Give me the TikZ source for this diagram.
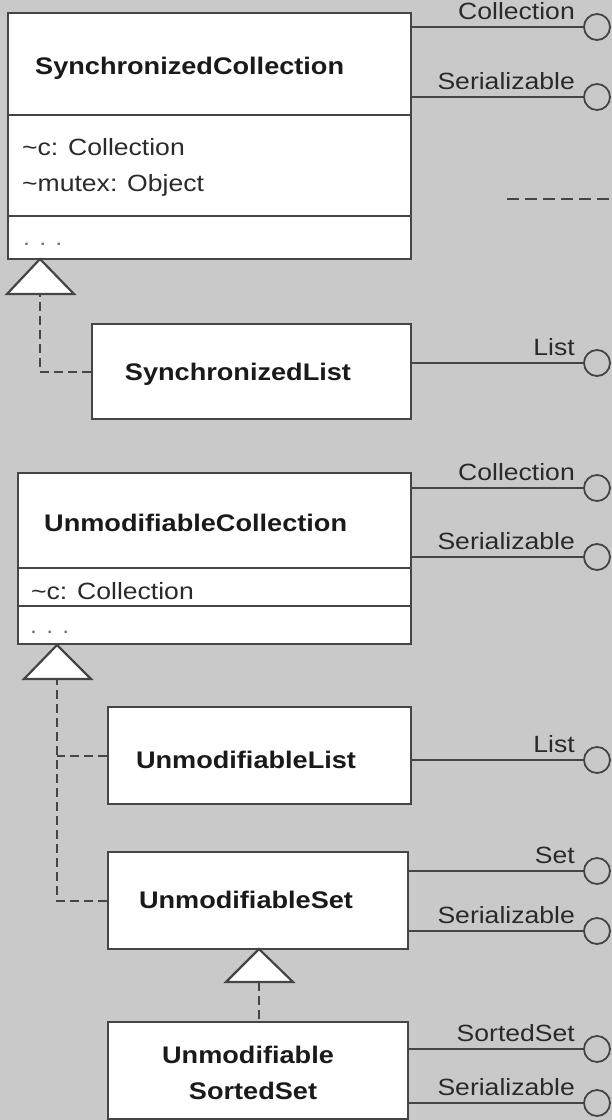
\documentclass[tikz,border=0pt]{standalone}
\usepackage{fontspec}
\newfontfamily\lib[FakeStretch=1.13]{Liberation Sans}
\definecolor{bgc}{HTML}{C9C9C9}
\definecolor{linec}{HTML}{454545}
\definecolor{textc}{HTML}{1A1A1A}
\definecolor{lblc}{HTML}{2A2A2A}
\definecolor{dotc}{HTML}{707070}
\begin{document}
\begin{tikzpicture}[x=1pt,y=-1pt,
  box/.style={draw=linec, line width=2.2pt, fill=white, inner sep=0pt, anchor=north west},
  title/.style={font=\lib\bfseries\fontsize{24}{28}\selectfont, text=textc, inner sep=0pt},
  attr/.style={font=\lib\fontsize{23.5}{28}\selectfont, text=lblc, anchor=base west, inner sep=0pt},
  dots/.style={font=\lib\fontsize{22}{26}\selectfont, text=dotc, anchor=base west, inner sep=0pt},
  lbl/.style={font=\lib\fontsize{23.5}{28}\selectfont, text=lblc, anchor=base east, inner sep=0pt},
  ifc/.style={circle, draw=linec, line width=1.8pt, minimum size=26pt, inner sep=0pt},
  conn/.style={draw=linec, line width=2.2pt},
  realize/.style={draw=linec, line width=2.2pt, dash pattern=on 9pt off 5pt},
  gen/.style={draw=linec, line width=2.2pt, fill=white, line join=miter}
]
\fill[bgc] (0,0) rectangle (612,1120);
\useasboundingbox (0,0) rectangle (612,1120);

% ---------- SynchronizedCollection ----------
\node[box, minimum width=403pt, minimum height=246pt] (A) at (7,12) {};
\draw[conn] (7,115) -- (410,115);
\draw[conn] (7,216) -- (410,216);
\node[title, anchor=base west] (At) at (35,74) {SynchronizedCollection};
\node[attr] (Aa1) at (22,155) {\textasciitilde c: Collection};
\node[attr] (Aa2) at (22,191) {\textasciitilde mutex: Object};
\node[dots] (Ad) at (23,245) {. . .};

\node[ifc] (Ai1) at (597,27) {};
\node[ifc] (Ai2) at (597,97) {};
\draw[conn] (Ai1) -- (Ai1 -| A.east);
\draw[conn] (Ai2) -- (Ai2 -| A.east);
\node[lbl] (Al1) at (575,19) {Collection};
\node[lbl] (Al2) at (575,89) {Serializable};

% stray dashed connector at right
\coordinate (dr1) at (507,199);
\coordinate (dr2) at (612,199);
\draw[draw=linec, line width=2.2pt, dash pattern=on 12pt off 6pt] (dr1) -- (dr2);

% generalization triangle A
\coordinate (tAapex) at (40,259);
\coordinate (tAb) at (40,294);
\draw[gen] (tAapex) -- (74,294) -- (7,294) -- cycle;

% ---------- SynchronizedList ----------
\node[box, minimum width=319pt, minimum height=95pt] (B) at (91,323) {};
\node[title, anchor=base] (Bt) at (238,380) {SynchronizedList};
\draw[realize] (B.west) -| (tAb);
\node[ifc] (Bi1) at (597,363) {};
\draw[conn] (Bi1) -- (Bi1 -| B.east);
\node[lbl] (Bl1) at (575,355) {List};

% ---------- UnmodifiableCollection ----------
\node[box, minimum width=393.5pt, minimum height=171pt] (C) at (16.5,472) {};
\draw[conn] (16.5,568) -- (410,568);
\draw[conn] (16.5,606) -- (410,606);
\node[title, anchor=base west] (Ct) at (44,531) {UnmodifiableCollection};
\node[attr] (Ca1) at (31,599) {\textasciitilde c: Collection};
\node[dots] (Cd) at (30,633) {. . .};

\node[ifc] (Ci1) at (597,488) {};
\node[ifc] (Ci2) at (597,557) {};
\draw[conn] (Ci1) -- (Ci1 -| C.east);
\draw[conn] (Ci2) -- (Ci2 -| C.east);
\node[lbl] (Cl1) at (575,480) {Collection};
\node[lbl] (Cl2) at (575,549) {Serializable};

\coordinate (tCapex) at (57,645);
\coordinate (tCb) at (57,679);
\draw[gen] (tCapex) -- (91,679) -- (24,679) -- cycle;

% ---------- UnmodifiableList ----------
\node[box, minimum width=303pt, minimum height=97pt] (D) at (107,706) {};
\node[title, anchor=base] (Dt) at (246,768) {UnmodifiableList};
\node[ifc] (Di1) at (597,760) {};
\draw[conn] (Di1) -- (Di1 -| D.east);
\node[lbl] (Dl1) at (575,752) {List};

% ---------- UnmodifiableSet ----------
\node[box, minimum width=300pt, minimum height=97pt] (E) at (107,851) {};
\node[title, anchor=base] (Et) at (246,908) {UnmodifiableSet};
\node[ifc] (Ei1) at (597,871) {};
\node[ifc] (Ei2) at (597,931) {};
\draw[conn] (Ei1) -- (Ei1 -| E.east);
\draw[conn] (Ei2) -- (Ei2 -| E.east);
\node[lbl] (El1) at (575,863) {Set};
\node[lbl] (El2) at (575,923) {Serializable};

\draw[realize] (E.west) -| (tCb);
\draw[realize] (D.west) -- (D.west -| tCb);

\coordinate (tEapex) at (259,949);
\coordinate (tEb) at (259,982);
\draw[gen] (tEapex) -- (293,982) -- (226,982) -- cycle;

% ---------- Unmodifiable SortedSet ----------
\node[box, minimum width=300pt, minimum height=97pt] (F) at (107,1021) {};
\node[title, anchor=base] (Ft1) at (248,1063) {Unmodifiable};
\node[title, anchor=base] (Ft2) at (253,1099) {SortedSet};
\draw[realize] (tEb) -- (tEb |- F.north);
\node[ifc] (Fi1) at (597,1049) {};
\node[ifc] (Fi2) at (597,1103) {};
\draw[conn] (Fi1) -- (Fi1 -| F.east);
\draw[conn] (Fi2) -- (Fi2 -| F.east);
\node[lbl] (Fl1) at (575,1041) {SortedSet};
\node[lbl] (Fl2) at (575,1095) {Serializable};
\end{tikzpicture}
\end{document}
